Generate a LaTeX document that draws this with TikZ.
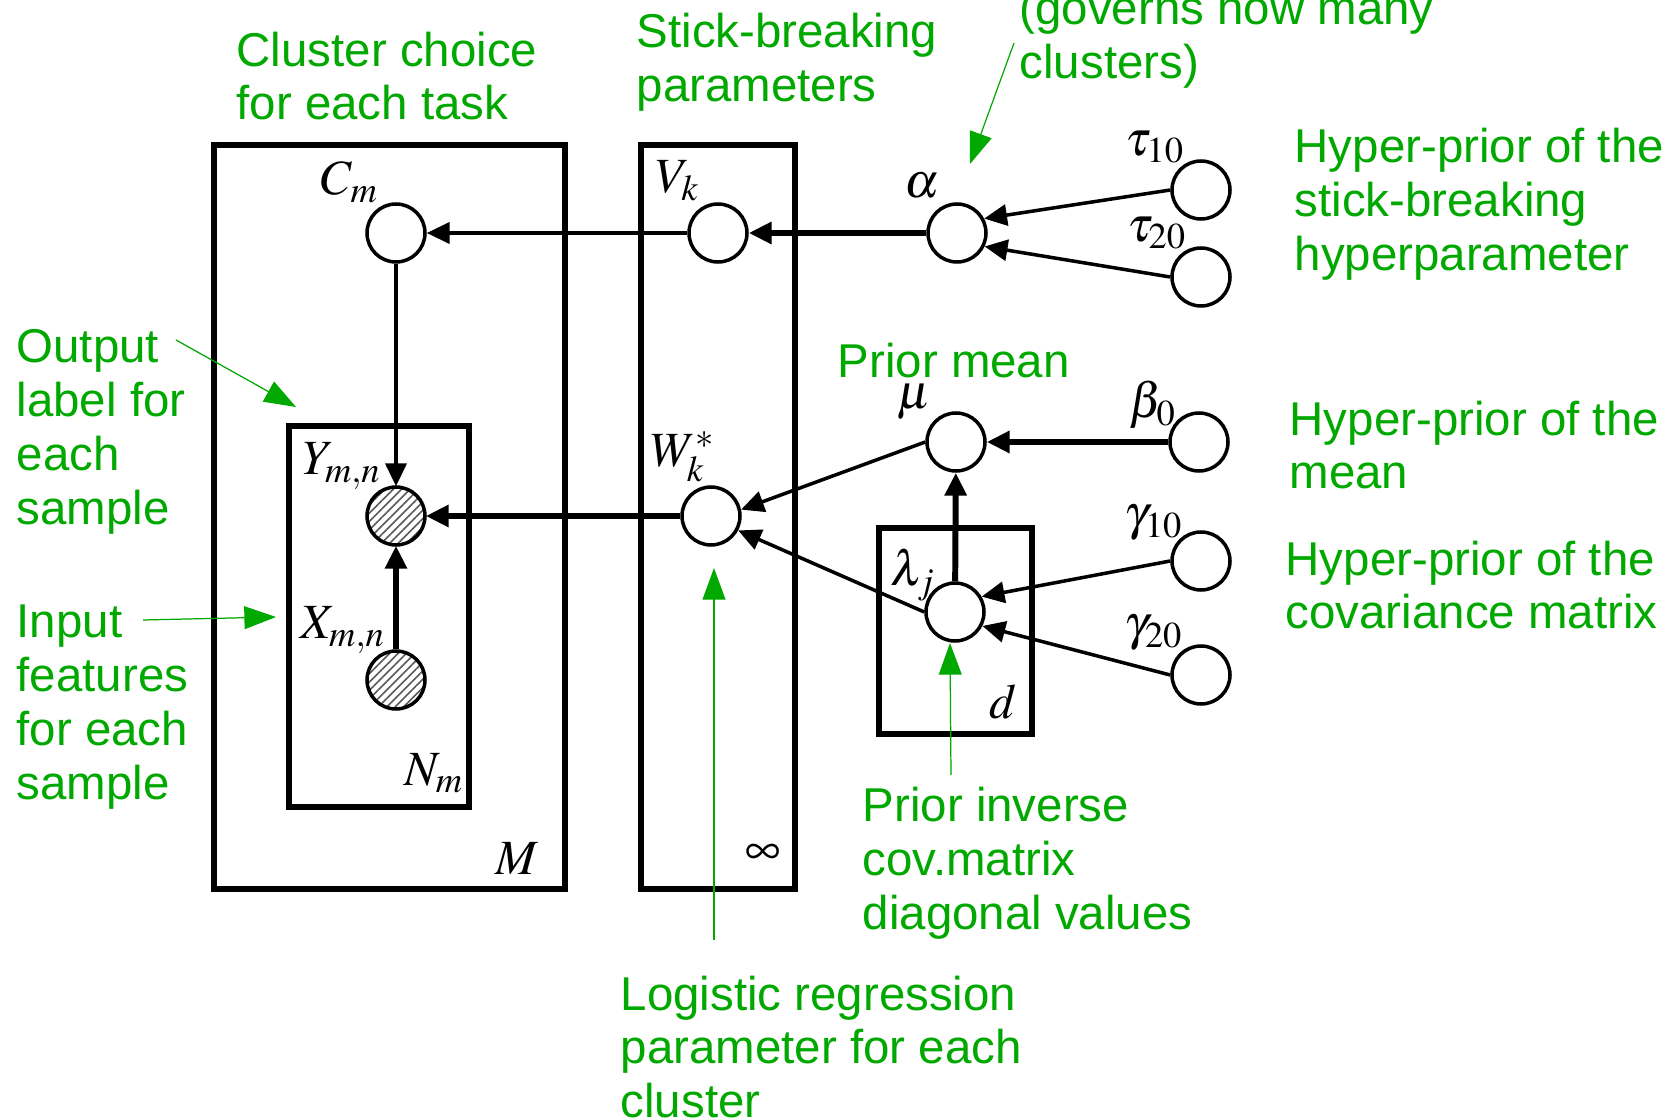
\documentclass[tikz,border=0pt]{standalone}
\usepackage{mathptmx}
\usepackage{fontspec}
\newfontfamily\notefont{Liberation Sans}
\usetikzlibrary{arrows.meta, positioning, patterns.meta}
\definecolor{notegreen}{RGB}{0,168,0}

\tikzset{
  var/.style={circle, draw, line width=1pt, minimum size=0.58cm, inner sep=0pt, fill=white},
  obs/.style={circle, draw, line width=1pt, minimum size=0.58cm, inner sep=0pt,
    preaction={fill=white}, pattern={Lines[angle=45, distance=1.7pt, line width=0.45pt]}, pattern color=black!65},
  plate/.style={draw, line width=1.5pt},
  sym/.style={inner sep=0pt, font=\fontsize{14}{16}\selectfont},
  edge/.style={-{Triangle[length=6.5pt, width=6pt]}, line width=1pt},
  bigedge/.style={-{Triangle[length=6.5pt, width=6pt]}, line width=1.7pt},
  note/.style={text=notegreen, align=left, anchor=west, inner sep=0pt, font=\notefont\fontsize{13.5}{15.3}\selectfont},
  pointer/.style={draw=notegreen, fill=notegreen, line width=0.35pt, -{Triangle[length=9pt, width=6.5pt]}},
}

\begin{document}
\begin{tikzpicture}
  \useasboundingbox (0,0) rectangle (16.70,11.19);
  % plates
  \draw[plate] (2.14,9.74) rectangle (5.65,2.30);
  \draw[plate] (2.89,6.93) rectangle (4.69,3.12);
  \draw[plate] (6.41,9.74) rectangle (7.95,2.30);
  \draw[plate] (8.79,5.91) rectangle (10.32,3.85);
  \node[sym] (mlab) at (5.17,2.60) {$M$};
  \node[sym] (nlab) at (4.34,3.46) {$N_m$};
  \node[sym] (inflab) at (7.63,2.64) {$\infty$};
  \node[sym] (dlab) at (10.03,4.17) {$d$};

  % variables
  \node[var] (cm) at (3.96,8.86) {};
  \node[var] (vk) at (7.18,8.86) {};
  \node[var] (alpha) at (9.57,8.86) {};
  \node[var] (tau10) at (12.01,9.29) {};
  \node[var] (tau20) at (12.01,8.42) {};
  \node[var] (mu) at (9.56,6.77) {};
  \node[var] (beta0) at (11.99,6.77) {};
  \node[var] (w) at (7.11,6.03) {};
  \node[obs] (ym) at (3.96,6.03) {};
  \node[obs] (xm) at (3.96,4.39) {};
  \node[var] (lam) at (9.55,5.07) {};
  \node[var] (gam10) at (12.01,5.58) {};
  \node[var] (gam20) at (12.01,4.44) {};

  \node[sym] (cmlab) at ([shift={(-0.46,0.51)}]cm) {$C_m$};
  \node[sym] (vklab) at ([shift={(-0.40,0.52)}]vk) {$V_k$};
  \node[sym] (alphalab) at ([shift={(-0.35,0.47)}]alpha) {$\alpha$};
  \node[sym] (tau10lab) at ([shift={(-0.46,0.43)}]tau10) {$\tau_{10}$};
  \node[sym] (tau20lab) at ([shift={(-0.44,0.44)}]tau20) {$\tau_{20}$};
  \node[sym] (mulab) at ([shift={(-0.42,0.40)}]mu) {$\mu$};
  \node[sym] (beta0lab) at ([shift={(-0.46,0.37)}]beta0) {$\beta_0$};
  \node[sym] (wlab) at ([shift={(-0.28,0.59)}]w) {$W_k^*$};
  \node[sym] (ymlab) at ([shift={(-0.54,0.50)}]ym) {$Y_{m,n}$};
  \node[sym] (xmlab) at ([shift={(-0.53,0.50)}]xm) {$X_{m,n}$};
  \node[sym] (lamlab) at ([shift={(-0.42,0.37)}]lam) {$\lambda_j$};
  \node[sym] (gam10lab) at ([shift={(-0.47,0.38)}]gam10) {$\gamma_{10}$};
  \node[sym] (gam20lab) at ([shift={(-0.47,0.42)}]gam20) {$\gamma_{20}$};

  % dependencies
  \draw[edge] (vk) -- (cm);
  \draw[bigedge] (alpha) -- (vk);
  \draw[edge] (tau10.west) -- (alpha.28);
  \draw[edge] (tau20.west) -- (alpha.-26);
  \draw[bigedge] (beta0) -- (mu);
  \draw[edge] (mu.west) -- (w.12);
  \draw[edge] (lam.west) -- (w.-28);
  \draw[bigedge] (lam) -- (mu);
  \draw[edge] (gam10.west) -- (lam.30);
  \draw[edge] (gam20.west) -- (lam.-27);
  \draw[bigedge] (w) -- (ym);
  \draw[edge] (cm) -- (ym);
  \draw[bigedge] (xm) -- (ym);

  % annotations
  \node[note] (choicenote) at (2.36,10.43) {Cluster choice\\for each task};
  \node[note] (sticknote) at (6.36,10.57) {Stick-breaking\\parameters};
  \node[note] (alphanote) at (10.19,10.80) {(governs how many\\clusters)};
  \node[note] (taunote) at (12.94,9.15) {Hyper-prior of the\\stick-breaking\\hyperparameter};
  \node[note] (ynote) at (0.16,6.87) {Output\\label for\\each\\sample};
  \node[note] (munote) at (8.37,7.58) {Prior mean};
  \node[note] (betanote) at (12.89,6.74) {Hyper-prior of the\\mean};
  \node[note] (gamnote) at (12.85,5.34) {Hyper-prior of the\\covariance matrix};
  \node[note] (xnote) at (0.16,4.12) {Input\\features\\for each\\sample};
  \node[note] (lamnote) at (8.62,2.555) {Prior inverse\\cov.matrix\\diagonal values};
  \node[note] (wnote) at (6.20,0.72) {Logistic regression\\parameter for each\\cluster};

  \coordinate (alphatail) at (10.14,10.76);
  \coordinate (alphahead) at (9.70,9.55);
  \coordinate (ytail) at (1.76,7.79);
  \coordinate (yhead) at (2.96,7.12);
  \coordinate (xtail) at (1.43,4.99);
  \coordinate (xhead) at (2.76,5.02);
  \coordinate (wtail) at (7.14,1.79);
  \coordinate (whead) at (7.14,5.51);
  \coordinate (lamtail) at (9.51,3.44);
  \coordinate (lamhead) at (9.50,4.76);
  \draw[pointer] (alphatail) -- (alphahead);
  \draw[pointer] (ytail) -- (yhead);
  \draw[pointer] (xtail) -- (xhead);
  \draw[pointer] (wtail) -- (whead);
  \draw[pointer] (lamtail) -- (lamhead);
\end{tikzpicture}
\end{document}
